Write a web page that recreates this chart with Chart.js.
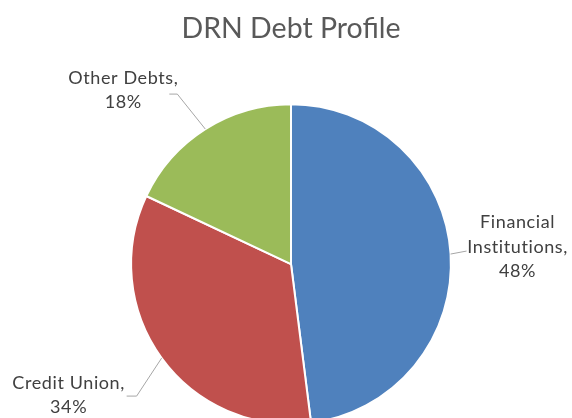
<!DOCTYPE html>
<html>
<head>
<meta charset="utf-8">
<script src="https://cdn.jsdelivr.net/npm/chart.js@4"></script>
<style>
  html, body { margin: 0; padding: 0; background: #fff; overflow: hidden; }
  #wrap { width: 572px; height: 418px; overflow: hidden; }
</style>
</head>
<body>
<div id="wrap"><canvas id="debtChart" width="572" height="440"></canvas></div>
<script>
// data
var categories = ['Financial Institutions', 'Credit Union', 'Other Debts'];
var shares = [48, 34, 18];
var labelLines = [['Financial', 'Institutions,', '48%'], ['Credit Union,', '34%'], ['Other Debts,', '18%']];
var sliceColors = ['#4F81BD', '#C0504D', '#9BBB59'];

// where each label sits relative to the point on the rim, and where its leader ends
var labelLayout = [
    { dx: 67, dy: -7, lineEnd: [-51, 4], stub: 0 },
    { dx: -93, dy: 37, lineEnd: [58, 1], stub: -10 },
    { dx: -82, dy: -39, lineEnd: [46, 4], stub: -8 }
];

var pieLabels = {
    id: 'pieLabels',
    afterDatasetsDraw: function (chart) {
        var ctx = chart.ctx;
        var arcs = chart.getDatasetMeta(0).data;
        ctx.save();
        ctx.font = '18px Lato';
        ctx.letterSpacing = '0.6px';
        ctx.fillStyle = '#404040';
        ctx.textAlign = 'center';
        ctx.textBaseline = 'middle';
        arcs.forEach(function (arc, i) {
            var p = arc.getProps(['x', 'y', 'startAngle', 'endAngle', 'outerRadius'], true);
            var mid = (p.startAngle + p.endAngle) / 2;
            var ax = p.x + Math.cos(mid) * p.outerRadius;
            var ay = p.y + Math.sin(mid) * p.outerRadius;
            var lay = labelLayout[i];
            var lx = ax + lay.dx, ly = ay + lay.dy;
            var lines = labelLines[i];
            var lh = 24.5;
            var top = ly - (lines.length - 1) * lh / 2;
            lines.forEach(function (t, k) {
                ctx.fillText(t, lx, top + k * lh);
            });
            // leader line
            var ex = lx + lay.lineEnd[0], ey = ly + lay.lineEnd[1];
            ctx.strokeStyle = '#a6a6a6';
            ctx.lineWidth = 1;
            ctx.beginPath();
            ctx.moveTo(ax, ay);
            ctx.lineTo(ex - lay.stub, ey);
            ctx.lineTo(ex, ey);
            ctx.stroke();
        });
        ctx.restore();
    }
};

var ctx = document.getElementById('debtChart').getContext('2d');
var debtChart = new Chart(ctx, {
    type: 'pie',
    data: {
        labels: categories,
        datasets: [{
            data: shares,
            backgroundColor: sliceColors,
            borderColor: '#ffffff',
            borderWidth: 2
        }]
    },
    options: {
        responsive: false,
        animation: false,
        layout: { padding: { left: 10, right: 0, top: 0, bottom: 15 } },
        plugins: {
            legend: { display: false },
            tooltip: { enabled: false },
            title: {
                display: true,
                text: 'DRN Debt Profile',
                color: '#595959',
                font: { family: 'Lato', size: 28.5, weight: 'normal', lineHeight: 1.2 },
                padding: { top: 12, bottom: 57 }
            }
        }
    },
    plugins: [pieLabels]
});
</script>
</body>
</html>
